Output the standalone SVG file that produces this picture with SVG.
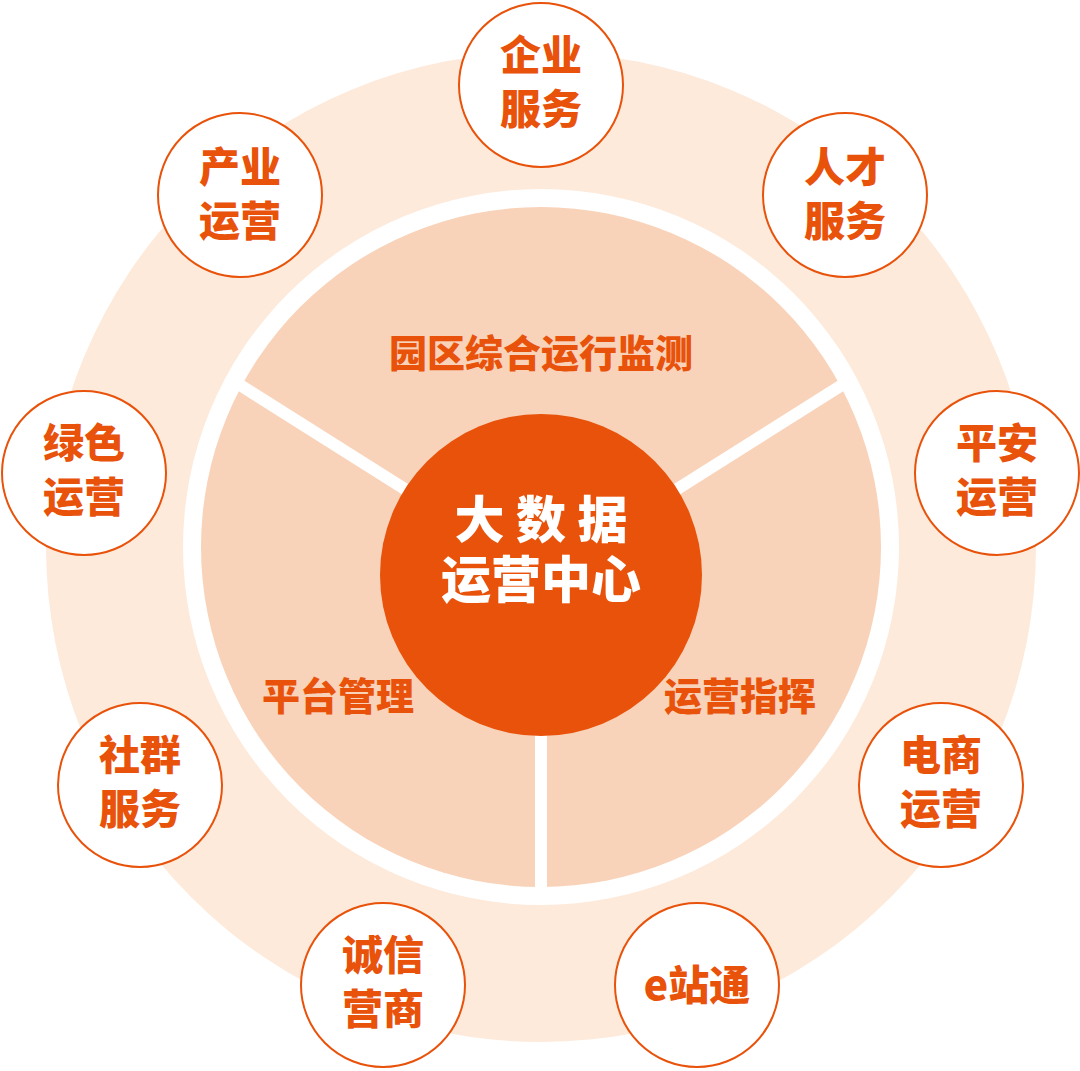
<svg xmlns="http://www.w3.org/2000/svg" width="1080" height="1071" viewBox="0 0 1080 1071">
<style>
.n circle{fill:#fff;stroke:#e8520a;stroke-width:2}
.t{font-family:"Noto Sans CJK SC","Liberation Sans",sans-serif;font-weight:900;fill:#e8520a;text-anchor:middle}
.s{font-size:41px}
.sec{font-size:38px}
.c{font-family:"Noto Sans CJK SC",sans-serif;font-weight:900;fill:#fff;text-anchor:middle;font-size:50px}
</style>
<rect width="1080" height="1071" fill="#fff"/>
<circle cx="541" cy="547" r="495" fill="#fdeadb"/>
<circle cx="541" cy="547" r="358" fill="#fff"/>
<circle cx="541" cy="547" r="340" fill="#f9d3b9"/>
<g id="connectors" stroke="#fff" stroke-width="12" stroke-linecap="butt">
<line x1="541" y1="575" x2="240" y2="385"/>
<line x1="541" y1="575" x2="842" y2="385"/>
<line x1="541" y1="575" x2="541" y2="895"/>
</g>
<g id="center"><circle cx="541" cy="575" r="161" fill="#e8520a"/>
<text class="c" x="541" y="538">大 数 据</text>
<text class="c" x="541" y="598">运营中心</text></g>
<g id="sec1"><text class="t sec" x="541" y="367">园区综合运行监测</text></g>
<g id="sec2"><text class="t sec" x="338" y="710">平台管理</text></g>
<g id="sec3"><text class="t sec" x="740" y="710">运营指挥</text></g>
<g id="n1" class="n"><circle cx="541" cy="85" r="82"/><text class="t s" x="541" y="70">企业</text><text class="t s" x="541" y="124">服务</text></g>
<g id="n2" class="n"><circle cx="845" cy="195" r="82"/><text class="t s" x="845" y="182">人才</text><text class="t s" x="845" y="236">服务</text></g>
<g id="n3" class="n"><circle cx="997" cy="473" r="82"/><text class="t s" x="997" y="458">平安</text><text class="t s" x="997" y="512">运营</text></g>
<g id="n4" class="n"><circle cx="941" cy="785" r="82"/><text class="t s" x="941" y="770">电商</text><text class="t s" x="941" y="824">运营</text></g>
<g id="n5" class="n"><circle cx="697" cy="985" r="82"/><text class="t s" x="697" y="1000">e站通</text></g>
<g id="n6" class="n"><circle cx="383" cy="985" r="82"/><text class="t s" x="383" y="970">诚信</text><text class="t s" x="383" y="1024">营商</text></g>
<g id="n7" class="n"><circle cx="140" cy="785" r="82"/><text class="t s" x="140" y="770">社群</text><text class="t s" x="140" y="824">服务</text></g>
<g id="n8" class="n"><circle cx="84" cy="473" r="82"/><text class="t s" x="84" y="458">绿色</text><text class="t s" x="84" y="512">运营</text></g>
<g id="n9" class="n"><circle cx="240" cy="195" r="82"/><text class="t s" x="240" y="182">产业</text><text class="t s" x="240" y="236">运营</text></g>
</svg>
